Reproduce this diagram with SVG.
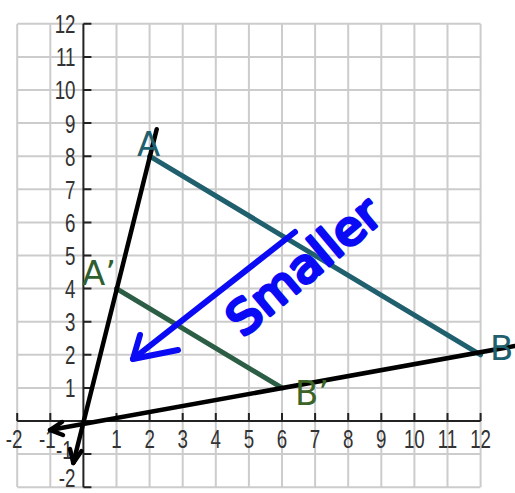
<svg xmlns="http://www.w3.org/2000/svg" width="515" height="493" viewBox="0 0 515 493">
<defs>
<style>
.grid line{stroke:#cccccc;stroke-width:2}
.axis{stroke:#222;stroke-width:2;fill:none}
.num{font-family:"Liberation Sans",Arial,sans-serif;font-size:25px;fill:#333}
.xl{text-anchor:middle}
.yl{text-anchor:end}
.pt{font-family:"DejaVu Sans","Liberation Sans",sans-serif;font-size:34px}
.black{stroke:#000;stroke-width:4.5;fill:none;stroke-linecap:round;stroke-linejoin:round}
.blue{stroke:#0a0af5;stroke-width:6;fill:none;stroke-linecap:round;stroke-linejoin:round}
</style>
</defs>
<rect width="515" height="493" fill="#fff"/>
<g id="grid" class="grid">
<line x1="17.2" y1="24" x2="17.2" y2="487"/>
<line x1="50.3" y1="24" x2="50.3" y2="487"/>
<line x1="116.5" y1="24" x2="116.5" y2="487"/>
<line x1="149.6" y1="24" x2="149.6" y2="487"/>
<line x1="182.7" y1="24" x2="182.7" y2="487"/>
<line x1="215.8" y1="24" x2="215.8" y2="487"/>
<line x1="248.9" y1="24" x2="248.9" y2="487"/>
<line x1="282" y1="24" x2="282" y2="487"/>
<line x1="315.1" y1="24" x2="315.1" y2="487"/>
<line x1="348.2" y1="24" x2="348.2" y2="487"/>
<line x1="381.3" y1="24" x2="381.3" y2="487"/>
<line x1="414.4" y1="24" x2="414.4" y2="487"/>
<line x1="447.5" y1="24" x2="447.5" y2="487"/>
<line x1="480.6" y1="24" x2="480.6" y2="487"/>
<line x1="17.2" y1="23.8" x2="480.6" y2="23.8"/>
<line x1="17.2" y1="56.9" x2="480.6" y2="56.9"/>
<line x1="17.2" y1="90" x2="480.6" y2="90"/>
<line x1="17.2" y1="123.1" x2="480.6" y2="123.1"/>
<line x1="17.2" y1="156.2" x2="480.6" y2="156.2"/>
<line x1="17.2" y1="189.3" x2="480.6" y2="189.3"/>
<line x1="17.2" y1="222.4" x2="480.6" y2="222.4"/>
<line x1="17.2" y1="255.5" x2="480.6" y2="255.5"/>
<line x1="17.2" y1="288.6" x2="480.6" y2="288.6"/>
<line x1="17.2" y1="321.7" x2="480.6" y2="321.7"/>
<line x1="17.2" y1="354.8" x2="480.6" y2="354.8"/>
<line x1="17.2" y1="387.9" x2="480.6" y2="387.9"/>
<line x1="17.2" y1="454.1" x2="480.6" y2="454.1"/>
<line x1="17.2" y1="487.2" x2="480.6" y2="487.2"/>
</g>
<g id="axes">
<path class="axis" d="M83.4 23.8V487.2M17.2 421H480.6"/>
<path class="axis" d="M83.4 23.8h8M83.4 56.9h8M83.4 90h8M83.4 123.1h8M83.4 156.2h8M83.4 189.3h8M83.4 222.4h8M83.4 255.5h8M83.4 288.6h8M83.4 321.7h8M83.4 354.8h8M83.4 387.9h8M83.4 454.1h8M83.4 487.2h8"/>
<path class="axis" d="M17.2 421v-8M50.3 421v-8M116.5 421v-8M149.6 421v-8M182.7 421v-8M215.8 421v-8M248.9 421v-8M282 421v-8M315.1 421v-8M348.2 421v-8M381.3 421v-8M414.4 421v-8M447.5 421v-8M480.6 421v-8"/>
</g>
<g id="axis-labels" class="num" transform="scale(0.75 1)">
<text class="xl" x="18.9" y="448">-2</text>
<text class="xl" x="63" y="448">-1</text>
<text class="xl" x="155.3" y="448">1</text>
<text class="xl" x="199.5" y="448">2</text>
<text class="xl" x="243.6" y="448">3</text>
<text class="xl" x="287.7" y="448">4</text>
<text class="xl" x="331.9" y="448">5</text>
<text class="xl" x="376" y="448">6</text>
<text class="xl" x="420.1" y="448">7</text>
<text class="xl" x="464.3" y="448">8</text>
<text class="xl" x="508.4" y="448">9</text>
<text class="xl" x="552.5" y="448">10</text>
<text class="xl" x="596.7" y="448">11</text>
<text class="xl" x="640.8" y="448">12</text>
<text class="yl" x="100.7" y="33.3">12</text>
<text class="yl" x="100.7" y="66.4">11</text>
<text class="yl" x="100.7" y="99.5">10</text>
<text class="yl" x="100.7" y="132.6">9</text>
<text class="yl" x="100.7" y="165.7">8</text>
<text class="yl" x="100.7" y="198.8">7</text>
<text class="yl" x="100.7" y="231.9">6</text>
<text class="yl" x="100.7" y="265">5</text>
<text class="yl" x="100.7" y="298.1">4</text>
<text class="yl" x="100.7" y="331.2">3</text>
<text class="yl" x="100.7" y="364.3">2</text>
<text class="yl" x="100.7" y="397.4">1</text>
<text class="yl" x="97" y="459">-1</text>
<text class="yl" x="100.7" y="487.5">-2</text>
</g>
<g id="segment-AB">
<line x1="149.6" y1="156.2" x2="480.6" y2="354.8" stroke="#1f5f6e" stroke-width="5" stroke-linecap="round"/>
</g>
<g id="segment-A1B1">
<line x1="116.5" y1="288.6" x2="282" y2="387.9" stroke="#2b5e44" stroke-width="5" stroke-linecap="round"/>
</g>
<g id="connectors">
<path class="black" d="M156.7 129.3L73.3 463"/>
<path class="black" d="M70 449L73.3 463L81.5 451"/>
<path class="black" d="M515 346L50 430"/>
<path class="black" d="M62 422L50 430L63 435"/>
<path class="blue" d="M295 232L133 359"/>
<path class="blue" d="M140 335L133 359L178 350"/>
</g>
<g id="point-A"><text class="pt" x="137" y="156" fill="#1f5f6e">A</text></g>
<g id="point-B"><text class="pt" x="490" y="360" fill="#1f5f6e">B</text></g>
<g id="point-A1"><text class="pt" x="82" y="285" fill="#2f5f2f">A’</text></g>
<g id="point-B1"><text class="pt" x="295" y="405" fill="#3b6426">B’</text></g>
<g id="note">
<text x="0" y="0" transform="translate(243 338) rotate(-40)" font-family="DejaVu Sans, sans-serif" font-size="46" fill="#0a0af5" stroke="#0a0af5" stroke-width="3.5" stroke-linejoin="round" textLength="185" lengthAdjust="spacingAndGlyphs">Smaller</text>
</g>
</svg>
